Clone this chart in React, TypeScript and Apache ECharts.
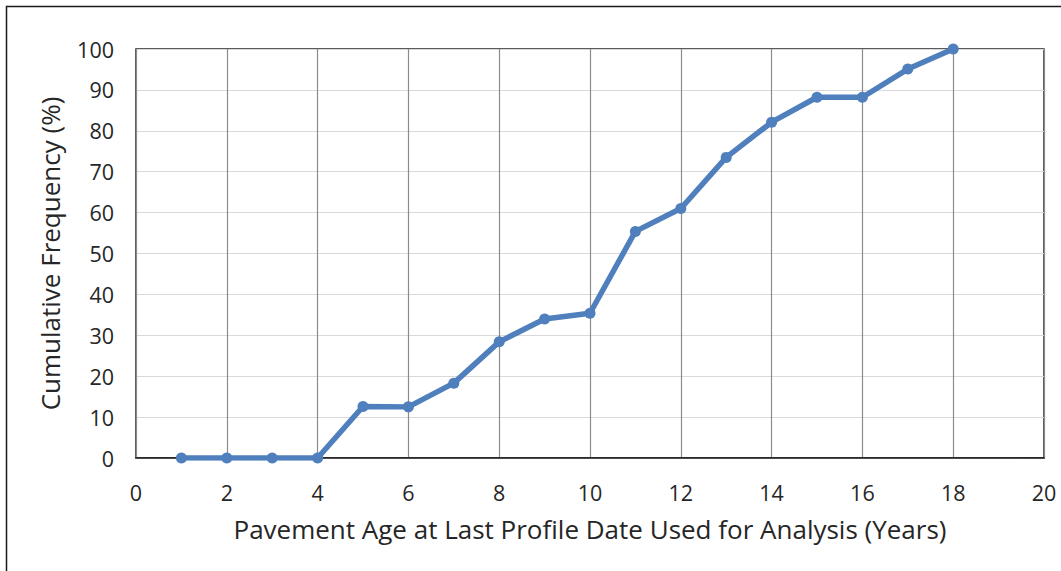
import React, { useEffect, useRef } from "react";
import * as echarts from "echarts";

const ages = [1, 2, 3, 4, 5, 6, 7, 8, 9, 10, 11, 12, 13, 14, 15, 16, 17, 18];
const cumulativeFrequency = [0, 0, 0, 0, 12.6, 12.5, 18.3, 28.4, 34.0, 35.4, 55.4, 61.0, 73.5, 82.1, 88.2, 88.2, 95.1, 100];
const xTitle = "Pavement Age at Last Profile Date Used for Analysis (Years)";
const yTitle = "Cumulative Frequency (%)";

export default function App() {
  const ref = useRef<HTMLDivElement>(null);
  useEffect(() => {
    if (!ref.current) return;
    const chart = echarts.init(ref.current, null, { renderer: "svg" });
    const font = "'Open Sans', 'Liberation Sans', sans-serif";
    chart.setOption({
      animation: false,
      backgroundColor: "#ffffff",
      grid: {
        left: 136,
        right: 17,
        top: 49,
        bottom: 113,
        show: true,
        borderColor: "#262626",
        borderWidth: 1.5,
        backgroundColor: "transparent",
      },
      graphic: [
        {
          type: "rect",
          shape: { x: 6.5, y: 6.5, width: 1200, height: 700 },
          style: { fill: "none", stroke: "#1a1a1a", lineWidth: 1.5 },
          silent: true,
          z: 100,
        },
      ],
      xAxis: {
        type: "value",
        min: 0,
        max: 20,
        interval: 2,
        name: xTitle,
        nameLocation: "middle",
        nameGap: 58,
        nameTextStyle: { fontFamily: font, fontSize: 26, color: "#262626" },
        axisLine: { show: true, lineStyle: { color: "#1a1a1a", width: 1.5 } },
        axisTick: { show: false },
        axisLabel: { margin: 23, fontFamily: font, fontSize: 21.5, color: "#262626" },
        splitLine: { show: true, lineStyle: { color: "#8c8c8c", width: 1.2 } },
      },
      yAxis: {
        type: "value",
        min: 0,
        max: 100,
        interval: 10,
        name: yTitle,
        nameLocation: "middle",
        nameGap: 73,
        nameTextStyle: { fontFamily: font, fontSize: 26, color: "#262626" },
        axisLine: { show: false },
        axisTick: { show: false },
        axisLabel: { margin: 22, fontFamily: font, fontSize: 21.5, color: "#262626" },
        splitLine: { show: true, lineStyle: { color: "#d9d9d9", width: 1.2 } },
      },
      series: [
        {
          type: "line",
          data: ages.map((a, i) => [a, cumulativeFrequency[i]]),
          symbol: "circle",
          symbolSize: 11,
          lineStyle: { color: "#4f7fbc", width: 5.5 },
          itemStyle: { color: "#4f7fbc" },
          z: 5,
        },
      ],
    });
    return () => chart.dispose();
  }, []);
  return (
    <div
      ref={ref}
      style={{ position: "fixed", left: 0, top: 0, width: 1061, height: 571, background: "#fff" }}
    />
  );
}
